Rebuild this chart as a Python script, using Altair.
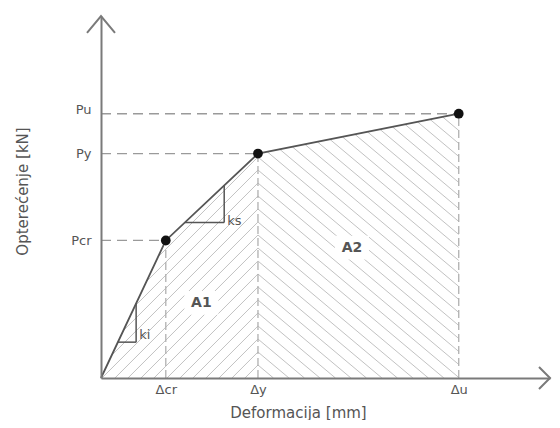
import json
import altair as alt
import numpy as np
import pandas as pd

# ---------------- data ----------------
delta_labels = ["Δcr", "Δy", "Δu"]
delta_vals = [7.1, 17.2, 39.2]          # deformation at Pcr, Py, Pu
load_labels = ["Pcr", "Py", "Pu"]
load_vals = [15.2, 24.8, 29.2]          # load levels
slope_labels = ["ki", "ks"]
slope_x = [[1.85, 3.85], [9.2, 13.5]]   # x extent of slope triangles
slope_label_y = [4.7, 17.4]
area_labels = ["A1", "A2"]
area_x = [11.0, 27.5]
area_y = [8.3, 14.4]

# ---------------- layout / style ----------------
X_MAX, Y_MAX = 49.2, 40
W, H = 449, 362
PX_X, PX_Y = W / X_MAX, H / Y_MAX
FONT = "DejaVu Sans"
TXT = "#555555"
AX = "#7a7a7a"

curve_x = [0.0] + delta_vals
curve_y = [0.0] + load_vals


def f(x):
    return np.interp(x, curve_x, curve_y)


def hatch(x0, x1, pivot, slope_px, spacing_px, kmax=80):
    s = slope_px * PX_X / PX_Y
    v = spacing_px / PX_Y
    xs = np.linspace(x0, x1, 3001)
    fx = f(xs)
    segs = []
    for k in range(1, kmax):
        ys = k * v + s * (xs - pivot)
        m = (ys >= 0) & (ys <= fx + 1e-9)
        if m.any():
            i = np.where(m)[0]
            a, b = i[0], i[-1]
            if b > a:
                segs.append(dict(x=xs[a], y=ys[a], x2=xs[b], y2=ys[b]))
    return segs


hatch_df = pd.DataFrame(
    hatch(0, delta_vals[1], delta_vals[1], 1.0, 13)
    + hatch(delta_vals[1], delta_vals[2], delta_vals[1], -np.tan(np.radians(40)), 13)
)

dash_h = pd.DataFrame({"x": [0.0] * 3, "x2": delta_vals, "y": load_vals, "y2": load_vals})
dash_v = pd.DataFrame({"x": delta_vals, "x2": delta_vals, "y": [0.0] * 3, "y2": load_vals})

tri_rows = []
lab_rows = []
for name, (xa, xb), ly in zip(slope_labels, slope_x, slope_label_y):
    ya, yb = float(f(xa)), float(f(xb))
    tri_rows.append(dict(x=xa, x2=xb, y=ya, y2=ya))
    tri_rows.append(dict(x=xb, x2=xb, y=ya, y2=yb))
    lab_rows.append(dict(x=xb, y=ly, t=name))
tri_df = pd.DataFrame(tri_rows)
slope_lab_df = pd.DataFrame(lab_rows)

curve_df = pd.DataFrame({"x": curve_x, "y": curve_y})
pts_df = pd.DataFrame({"x": delta_vals, "y": load_vals})
area_df = pd.DataFrame({"x": area_x, "y": area_y, "t": area_labels})

x_scale = alt.Scale(domain=[0, X_MAX], nice=False, zero=False)
y_scale = alt.Scale(domain=[0, Y_MAX], nice=False, zero=False)

x_expr = "%s[indexof(%s, datum.value)]" % (json.dumps(delta_labels, ensure_ascii=False), json.dumps(delta_vals))
y_expr = "%s[indexof(%s, datum.value)]" % (json.dumps(load_labels, ensure_ascii=False), json.dumps(load_vals))

x_axis = alt.Axis(
    values=delta_vals, labelExpr=x_expr, title="Deformacija [mm]", grid=False, ticks=False,
    domainColor=AX, domainWidth=2, labelFont=FONT, labelFontSize=13, labelColor=TXT,
    labelPadding=5, labelOverlap=False, labelFlush=False,
    titleFont=FONT, titleFontSize=15, titleFontWeight="normal", titleColor=TXT,
    titleX=197, titleY=39, titleBaseline="alphabetic", titleAlign="center", zindex=1,
)
y_axis = alt.Axis(
    values=load_vals, labelExpr=y_expr, title="Opterećenje [kN]", grid=False, ticks=False,
    domainColor=AX, domainWidth=2, labelFont=FONT, labelFontSize=13, labelColor=TXT,
    labelPadding=10, labelOverlap=False, labelFlush=False,
    labelBaseline={"condition": {"test": "datum.value == %s" % load_vals[2], "value": "alphabetic"},
                   "value": "middle"},
    titleFont=FONT, titleFontSize=15, titleFontWeight="normal", titleColor=TXT,
    titleX=-79, titleY=175, titleAngle=270, titleBaseline="middle", titleAlign="center", zindex=1,
)


def X(field="x"):
    return alt.X(field, type="quantitative", scale=x_scale, axis=x_axis)


def Y(field="y"):
    return alt.Y(field, type="quantitative", scale=y_scale, axis=y_axis)


hatch_layer = alt.Chart(hatch_df).mark_rule(color="#c2c2c2", strokeWidth=1).encode(
    x=X(), y=Y(), x2="x2", y2="y2")
dash_h_layer = alt.Chart(dash_h).mark_rule(color="#9a9a9a", strokeWidth=1.3, strokeDash=[10, 6]).encode(
    x=X(), y=Y(), x2="x2", y2="y2")
dash_v_layer = alt.Chart(dash_v).mark_rule(color="#b0b0b0", strokeWidth=1.3, strokeDash=[8, 4]).encode(
    x=X(), y=Y(), x2="x2", y2="y2")
tri_layer = alt.Chart(tri_df).mark_rule(color="#555555", strokeWidth=1.5).encode(
    x=X(), y=Y(), x2="x2", y2="y2")
curve_layer = alt.Chart(curve_df).mark_line(color="#555555", strokeWidth=1.8).encode(
    x=X(), y=Y(), order=alt.Order("x:Q"))
pts_layer = alt.Chart(pts_df).mark_point(filled=True, color="#111111", size=95, opacity=1).encode(
    x=X(), y=Y())
patch_layer = alt.Chart(area_df).mark_point(
    shape="M-1,-0.7L1,-0.7L1,0.7L-1,0.7Z", filled=True, color="white", size=34 * 34, opacity=1
).encode(x=X(), y=Y())
area_text = alt.Chart(area_df).mark_text(
    font=FONT, fontSize=14, fontWeight="bold", color=TXT, align="center", baseline="middle"
).encode(x=X(), y=Y(), text="t:N")
slope_text = alt.Chart(slope_lab_df).mark_text(
    font=FONT, fontSize=13, color=TXT, align="left", baseline="middle", dx=3
).encode(x=X(), y=Y(), text="t:N")

x_arrow = alt.Chart(pd.DataFrame({"x": [X_MAX], "y": [0.0]})).mark_point(
    shape="M-1,-1L0,0L-1,1", filled=False, color=AX, strokeWidth=2, size=22 * 22, opacity=1
).encode(x=X(), y=Y())
y_arrow = alt.Chart(pd.DataFrame({"x": [0.0], "y": [Y_MAX]})).mark_point(
    shape="M-1,1.2L0,0L1,1.2", filled=False, color=AX, strokeWidth=2, size=28 * 28, opacity=1
).encode(x=X(), y=Y())

chart = alt.layer(
    hatch_layer, dash_v_layer, dash_h_layer, tri_layer, curve_layer, pts_layer,
    patch_layer, area_text, slope_text, x_arrow, y_arrow,
).properties(
    width=W, height=H,
    autosize=alt.AutoSizeParams(type="none"),
    padding={"left": 93, "top": 8, "right": 2, "bottom": 42},
    background="white",
).configure_view(stroke=None)

chart.save("out.html", embed_options={"renderer": "svg", "actions": False})
